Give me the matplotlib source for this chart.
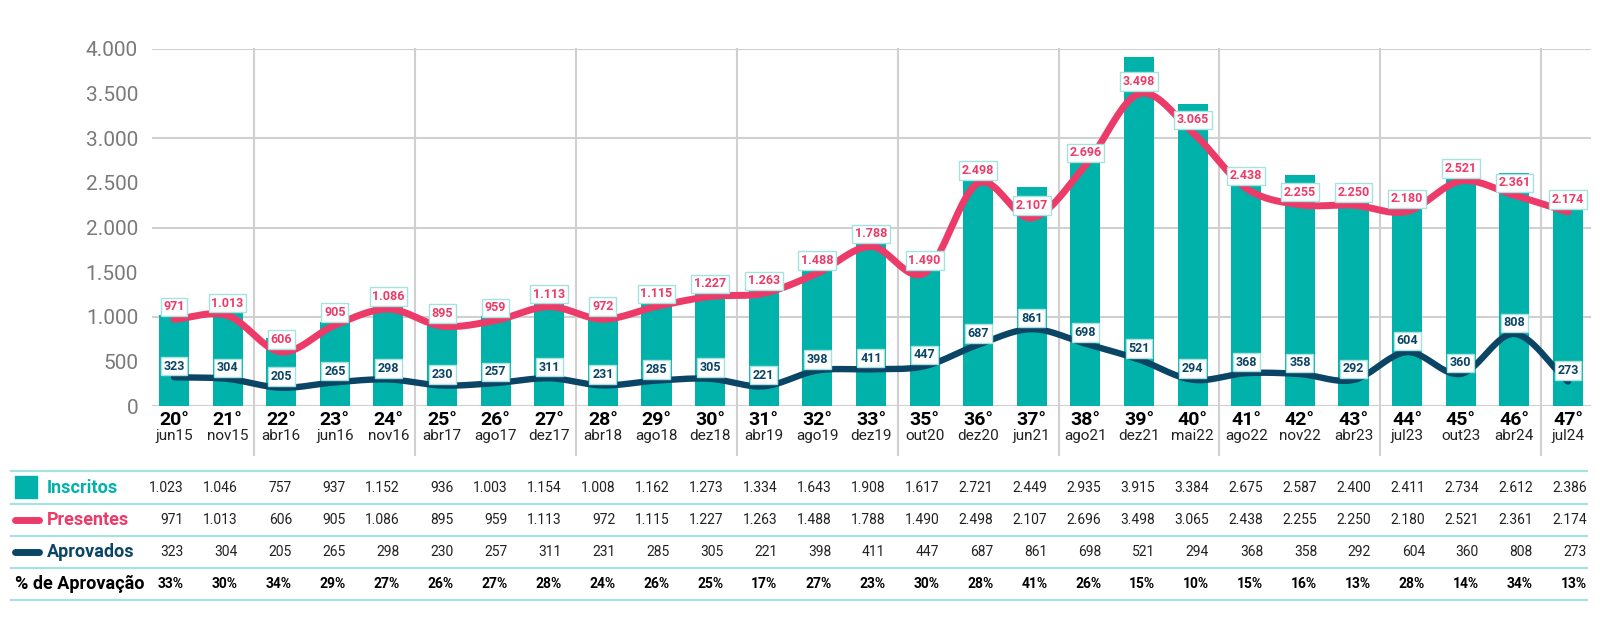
import numpy as np
import matplotlib
matplotlib.use('Agg')
import matplotlib.pyplot as plt
import matplotlib.transforms as mtransforms
from matplotlib.lines import Line2D
from matplotlib.patches import Rectangle

# ---------------- data ----------------
editions = ['20°', '21°', '22°', '23°', '24°', '25°', '26°', '27°', '28°', '29°', '30°',
            '31°', '32°', '33°', '35°', '36°', '37°', '38°', '39°', '40°', '41°', '42°',
            '43°', '44°', '45°', '46°', '47°']
months = ['jun15', 'nov15', 'abr16', 'jun16', 'nov16', 'abr17', 'ago17', 'dez17', 'abr18',
          'ago18', 'dez18', 'abr19', 'ago19', 'dez19', 'out20', 'dez20', 'jun21', 'ago21',
          'dez21', 'mai22', 'ago22', 'nov22', 'abr23', 'jul23', 'out23', 'abr24', 'jul24']
inscritos = [1023, 1046, 757, 937, 1152, 936, 1003, 1154, 1008, 1162, 1273, 1334, 1643, 1908,
             1617, 2721, 2449, 2935, 3915, 3384, 2675, 2587, 2400, 2411, 2734, 2612, 2386]
presentes = [971, 1013, 606, 905, 1086, 895, 959, 1113, 972, 1115, 1227, 1263, 1488, 1788,
             1490, 2498, 2107, 2696, 3498, 3065, 2438, 2255, 2250, 2180, 2521, 2361, 2174]
aprovados = [323, 304, 205, 265, 298, 230, 257, 311, 231, 285, 305, 221, 398, 411,
             447, 687, 861, 698, 521, 294, 368, 358, 292, 604, 360, 808, 273]
pct_aprov = ['33%', '30%', '34%', '29%', '27%', '26%', '27%', '28%', '24%', '26%', '25%',
             '17%', '27%', '23%', '30%', '28%', '41%', '26%', '15%', '10%', '15%', '16%',
             '13%', '28%', '14%', '34%', '13%']
yticks = [0, 500, 1000, 1500, 2000, 2500, 3000, 3500, 4000]
separators = [1.5, 4.5, 7.5, 10.5, 13.5, 16.5, 19.5, 22.5, 25.5]

# ---------------- style ----------------
TEAL = '#00B2A9'
PINK = '#EC3B69'
NAVY = '#0B4566'
GRID = '#D0D0D0'
LTEAL = '#A6E2DF'
FONT = ['Liberation Sans Narrow', 'Roboto', 'DejaVu Sans']
plt.rcParams['font.family'] = FONT

W, H = 1600, 634


def fmt(v):
    return f"{v:,}".replace(',', '.')


def smooth(y, n=24):
    y = np.asarray(y, float)
    m = np.gradient(y)
    xs, ys = [], []
    for i in range(len(y) - 1):
        t = np.linspace(0, 1, n, endpoint=False)
        h00 = 2 * t**3 - 3 * t**2 + 1
        h10 = t**3 - 2 * t**2 + t
        h01 = -2 * t**3 + 3 * t**2
        h11 = t**3 - t**2
        xs.append(i + t)
        ys.append(h00 * y[i] + h10 * m[i] + h01 * y[i + 1] + h11 * m[i + 1])
    xs.append([len(y) - 1])
    ys.append([y[-1]])
    return np.concatenate(xs), np.concatenate(ys)


fig = plt.figure(figsize=(W / 100, H / 100), dpi=100)

# table axes (columns mapped to category index)
col0, colstep = 184, 53.96
tax = fig.add_axes([0, 0, 1, 1])
tax.set_xlim(-col0 / colstep, (W - col0) / colstep)
tax.set_ylim(H, 0)
tax.axis('off')

# main axes
L, R, T, B = 152, 1591, 49, 406
ax = fig.add_axes([L / W, 1 - B / H, (R - L) / W, (B - T) / H])
ax.patch.set_visible(False)
n = len(editions)
x = np.arange(n)
ax.set_xlim(-0.41, n - 1 + 0.43)
ax.set_ylim(0, 4000)
for s in ax.spines.values():
    s.set_visible(False)

for yv in range(0, 4001, 1000):
    ax.axhline(yv, color=GRID, lw=1.5, zorder=0)

trans = mtransforms.blended_transform_factory(ax.transData, ax.transAxes)
for sx in separators:
    ax.add_line(Line2D([sx, sx], [-0.137, 1.0], transform=trans, color=GRID,
                       lw=1.5, zorder=0, clip_on=False))

ax.set_yticks(yticks)
ax.set_yticklabels([fmt(v) for v in yticks])
ax.tick_params(axis='y', length=0, pad=10, labelsize=15, labelcolor='#7A7A7A')
ax.set_xticks([])

ax.bar(x, inscritos, width=0.56, color=TEAL, zorder=2)

xs, ys = smooth(presentes)
ax.plot(xs, ys, color=PINK, lw=5, solid_capstyle='round', zorder=3)
xs, ys = smooth(aprovados)
ax.plot(xs, ys, color=NAVY, lw=4.6, solid_capstyle='round', zorder=3)

box = dict(boxstyle='square,pad=0.22', fc='white', ec=LTEAL, lw=1.0)
for i in range(n):
    ax.annotate(fmt(presentes[i]), (i, presentes[i]), xytext=(0, 9), textcoords='offset points',
                ha='center', va='center', fontsize=9, fontweight='bold', color=PINK,
                bbox=box, zorder=5, annotation_clip=False)
    ax.annotate(fmt(aprovados[i]), (i, aprovados[i]), xytext=(0, 8), textcoords='offset points',
                ha='center', va='center', fontsize=9, fontweight='bold', color=NAVY,
                bbox=box, zorder=5, annotation_clip=False)
    ax.text(i, -14 / (B - T), editions[i], transform=trans, ha='center', va='center',
            fontsize=14, fontweight='bold', color='black')
    ax.text(i, -30 / (B - T), months[i], transform=trans, ha='center', va='center',
            fontsize=11, color='#222222')

# ---------------- table ----------------
for yl in [471, 503.5, 536, 568, 599.5]:
    tax.plot([(11 - col0) / colstep, (1587 - col0) / colstep], [yl, yl], color=LTEAL, lw=1.6)

rows = [(inscritos, 488, False), (presentes, 520, False), (aprovados, 552, False)]
for vals, yy, bold in rows:
    for i, v in enumerate(vals):
        tax.text(i, yy, fmt(v), ha='right', va='center', fontsize=10, color='#222222')
for i, p in enumerate(pct_aprov):
    tax.text(i, 584, p, ha='right', va='center', fontsize=10, fontweight='bold', color='black')

# legend inside table
px = fig.transFigure
fig.patches.append(Rectangle((15 / W, 1 - 498 / H), 22 / W, 22 / H, transform=px,
                             color=TEAL, zorder=3))
fig.text(47 / W, 1 - 488 / H, 'Inscritos', ha='left', va='center', fontsize=13,
         fontweight='bold', color=TEAL)
fig.add_artist(Line2D([15 / W, 39 / W], [1 - 520 / H] * 2, transform=px, color=PINK, lw=5,
                      solid_capstyle='round'))
fig.text(47 / W, 1 - 520 / H, 'Presentes', ha='left', va='center', fontsize=13,
         fontweight='bold', color=PINK)
fig.add_artist(Line2D([15 / W, 39 / W], [1 - 552 / H] * 2, transform=px, color=NAVY, lw=5,
                      solid_capstyle='round'))
fig.text(47 / W, 1 - 552 / H, 'Aprovados', ha='left', va='center', fontsize=13,
         fontweight='bold', color=NAVY)
fig.text(15 / W, 1 - 584 / H, '% de Aprovação', ha='left', va='center', fontsize=13,
         fontweight='bold', color='black')

fig.savefig('out.png', dpi=100, facecolor='white')
